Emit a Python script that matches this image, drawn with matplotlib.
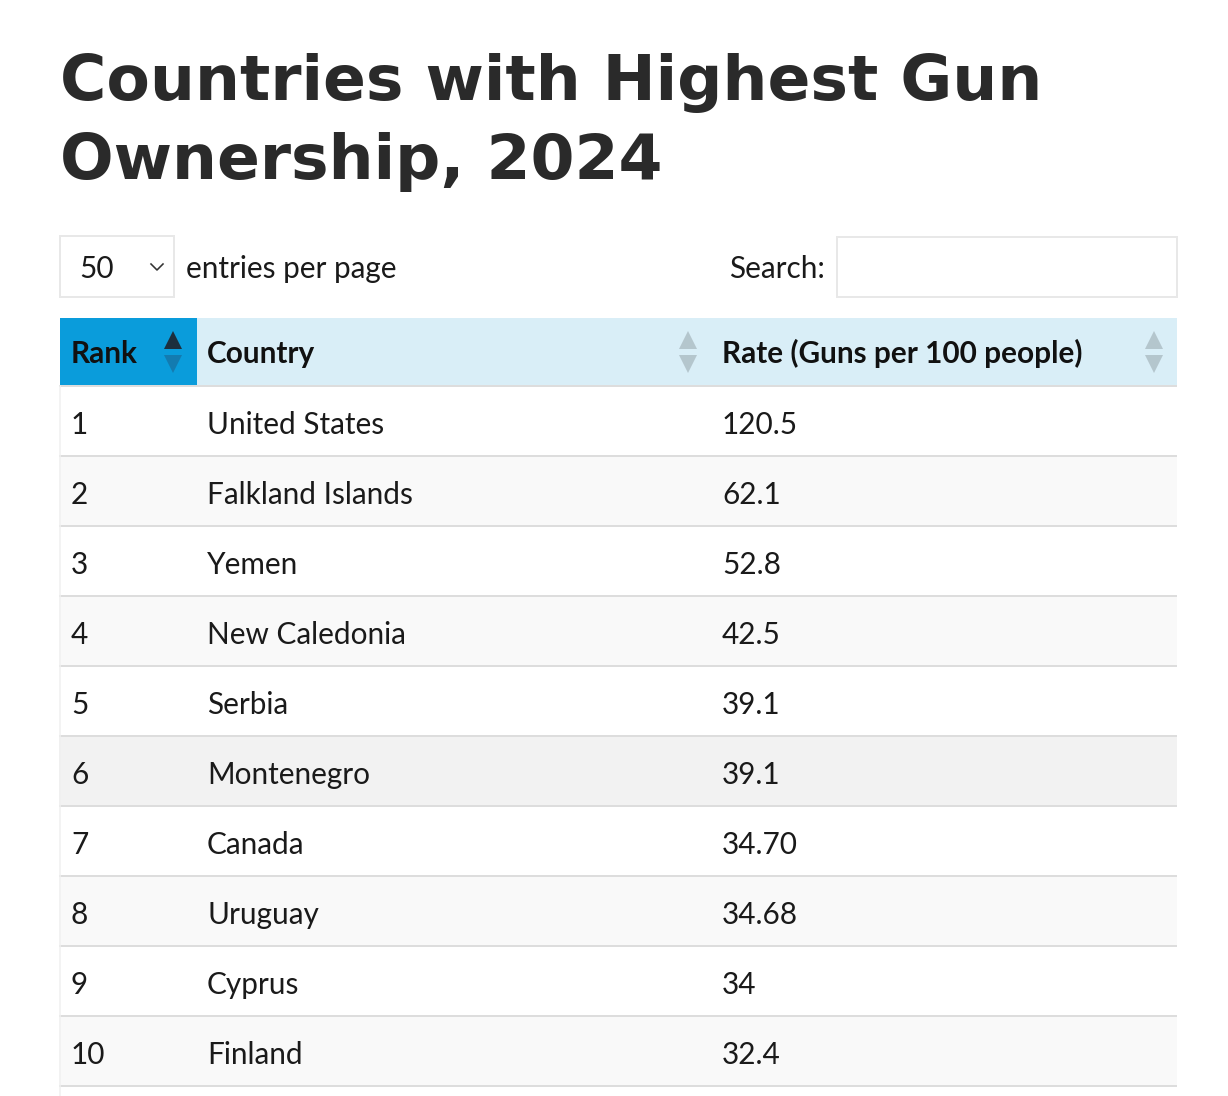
import matplotlib
matplotlib.use("Agg")
import matplotlib.pyplot as plt
from matplotlib.patches import Rectangle, Polygon

# ---- data ----
title_lines = ["Countries with Highest Gun", "Ownership, 2024"]
columns = ["Rank", "Country", "Rate (Guns per 100 people)"]
ranks = ["1", "2", "3", "4", "5", "6", "7", "8", "9", "10"]
countries = ["United States", "Falkland Islands", "Yemen", "New Caledonia", "Serbia",
             "Montenegro", "Canada", "Uruguay", "Cyprus", "Finland"]
rates = ["120.5", "62.1", "52.8", "42.5", "39.1", "39.1", "34.70", "34.68", "34", "32.4"]
entries_option = "50"
entries_label = "entries per page"
search_label = "Search:"

W, H = 1228, 1096
DPI = 100
fig = plt.figure(figsize=(W / DPI, H / DPI), dpi=DPI)
ax = fig.add_axes([0, 0, 1, 1])
ax.set_xlim(0, W)
ax.set_ylim(H, 0)
ax.axis("off")

def px(v):  # pixel -> points
    return v * 72 / DPI

BODY = ["Lato", "DejaVu Sans"]
TXT = "#1a1a1a"
BFS = px(29.8)

# ---- title (fit width) ----
renderer = fig.canvas.get_renderer()
t1 = ax.text(60, 100, title_lines[0], fontsize=px(78), fontweight="bold",
             family=["DejaVu Sans"], color="#2a2a2a", va="baseline", ha="left")
bb = t1.get_window_extent(renderer)
scale = 983 / bb.width
fs = px(78) * scale
t1.set_fontsize(fs)
ax.text(60, 179, title_lines[1], fontsize=fs, fontweight="bold",
        family=["DejaVu Sans"], color="#2a2a2a", va="baseline", ha="left")

# ---- controls ----
ax.add_patch(Rectangle((59.5, 235.5), 114, 61, fill=False, ec="#e8e8e8", lw=px(2)))
ax.text(79, 278, entries_option, fontsize=BFS, family=BODY, color=TXT, va="baseline")
ax.plot([151, 157, 163], [264, 270, 264], color="#333333", lw=px(1.6))
ax.text(186, 278, entries_label, fontsize=BFS, family=BODY, color=TXT, va="baseline")
ax.add_patch(Rectangle((836.5, 236.5), 340, 60, fill=False, ec="#e8e8e8", lw=px(2)))
ax.text(825, 278, search_label, fontsize=BFS, family=BODY, color=TXT, va="baseline", ha="right")

# ---- table ----
x0, x1 = 59, 1177
col_x = [60, 197, 711]
text_x = [71, 207, 722]
head_top, head_h = 318, 68
row_h = 70
ax.add_patch(Rectangle((col_x[1], head_top), x1 - col_x[1], head_h, fc="#d9eef7", ec="none"))
ax.add_patch(Rectangle((col_x[0], head_top), col_x[1] - col_x[0], head_h, fc="#0a9cdb", ec="none"))
for j, name in enumerate(columns):
    ax.text(text_x[j], head_top + 45, name, fontsize=BFS, fontweight="bold",
            family=BODY, color="#111111", va="baseline")

def arrows(xc, up_c, down_c):
    ax.add_patch(Polygon([[xc - 9, 349], [xc + 9, 349], [xc, 331]], closed=True, fc=up_c, ec="none"))
    ax.add_patch(Polygon([[xc - 9, 355], [xc + 9, 355], [xc, 373]], closed=True, fc=down_c, ec="none"))

arrows(173, "#1c2f3e", "#137bb0")
arrows(688, "#b4c6cd", "#b4c6cd")
arrows(1154, "#b4c6cd", "#b4c6cd")

table_top = head_top + head_h
n = len(ranks)
for i in range(n):
    top = table_top + i * row_h
    if i == 5:
        fc = "#f2f2f2"
    elif i % 2 == 1:
        fc = "#f9f9f9"
    else:
        fc = "#ffffff"
    ax.add_patch(Rectangle((x0, top), x1 - x0, row_h, fc=fc, ec="none"))
    for j, val in enumerate((ranks[i], countries[i], rates[i])):
        ax.text(text_x[j], top + 48, val, fontsize=BFS, family=BODY, color=TXT, va="baseline")

# borders
for i in range(n + 1):
    y = table_top + i * row_h
    ax.plot([x0, x1], [y, y], color="#dddddd", lw=px(2), solid_capstyle="butt")
ax.plot([x0 + 0.5, x0 + 0.5], [table_top, H], color="#f0f0f0", lw=px(1.5))

fig.savefig("out.png", dpi=DPI, facecolor="white")
